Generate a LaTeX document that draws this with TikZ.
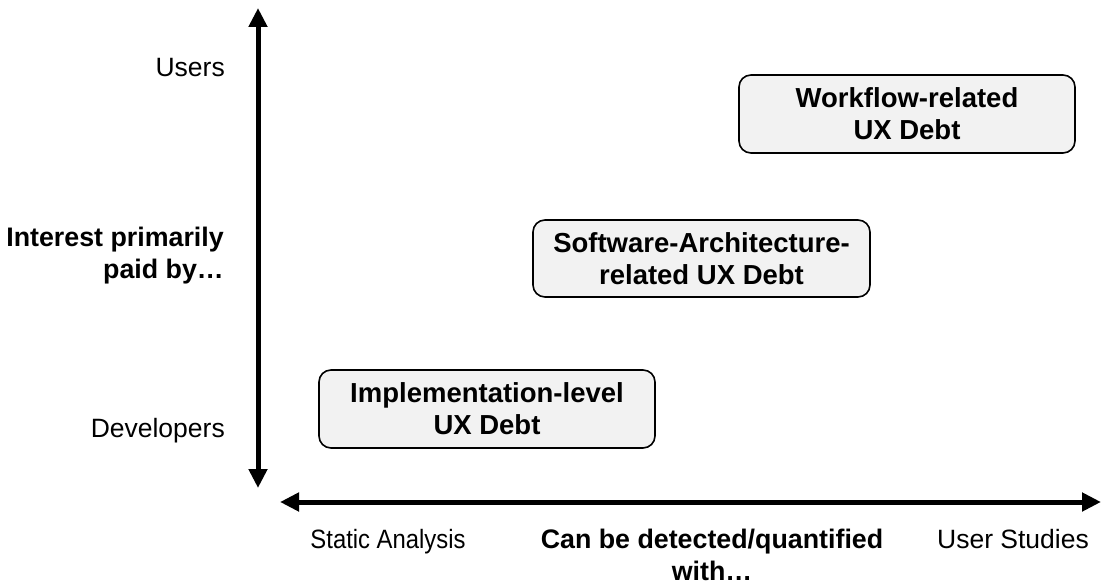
\documentclass[tikz,border=0pt]{standalone}
\usepackage{fontspec}
\setmainfont{Liberation Sans}
\usetikzlibrary{arrows.meta}
\begin{document}
\begin{tikzpicture}[x=1pt,y=-1pt,
  axis/.style={line width=5pt,{Triangle[width=18pt,length=19pt]}-{Triangle[width=18pt,length=19pt]}},
  debtbox/.style={draw=black,line width=1.6pt,fill=black!5,rounded corners=12pt,
    minimum width=336pt,minimum height=78pt,align=center,inner sep=0pt,
    font=\fontsize{27.5}{32}\selectfont\bfseries},
  lbl/.style={inner sep=0pt,font=\fontsize{26.5}{31}\selectfont},
  blbl/.style={inner sep=0pt,font=\fontsize{26.8}{32}\selectfont\bfseries}]
\useasboundingbox (0,0) rectangle (1102,586);
% axes
\coordinate (vtop) at (258,8);
\coordinate (vbot) at (258,488);
\coordinate (hl) at (280,502);
\coordinate (hr) at (1101,502);
\draw[axis] (vbot) -- (vtop);
\draw[axis] (hl) -- (hr);
% boxes
\node[debtbox] (wf) at (907,114) {Workflow-related\\UX Debt};
\node[debtbox,minimum width=337pt,minimum height=77pt] (sa) at (701.5,258.5) {Software-Architecture-\\related UX Debt};
\node[debtbox] (il) at (487,409) {Implementation-level\\UX Debt};
% left labels
\node[lbl,anchor=base east] (users) at (225,76) {Users};
\node[blbl,align=right,anchor=east] (interest) at (224,256) {Interest primarily\\paid by…};
\node[lbl,anchor=base east] (devs) at (225,437) {Developers};
% bottom labels
\node[lbl,anchor=base] (static) at (388,548) {\scalebox{0.9}[1]{Static Analysis}};
\node[blbl,align=center] (detect) at (712,555) {Can be detected/quantified\\with…};
\node[lbl,anchor=base] (ustud) at (1013,548) {User Studies};
\end{tikzpicture}
\end{document}
